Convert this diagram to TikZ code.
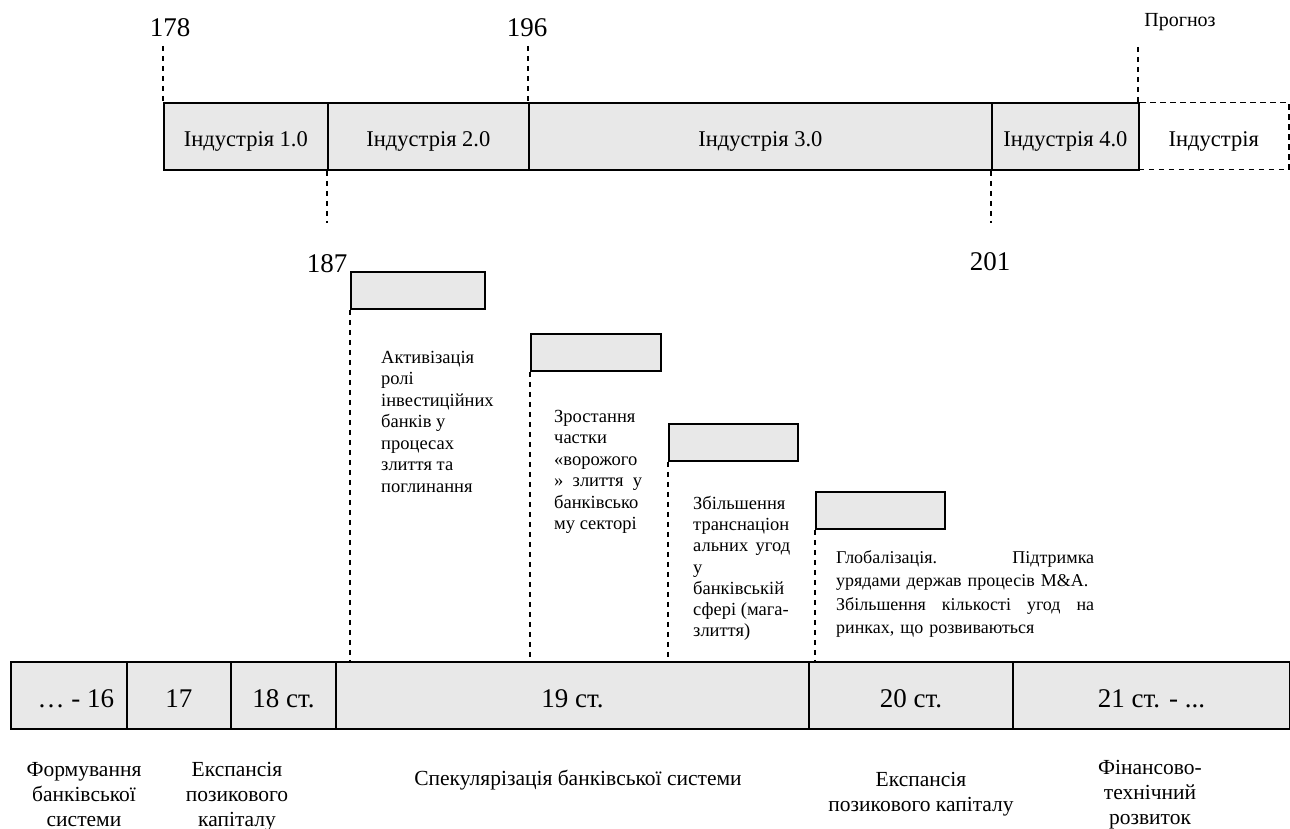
\documentclass[tikz,border=0pt]{standalone}
\usepackage{fontspec}
\setmainfont{Liberation Serif}
\definecolor{boxgray}{RGB}{232,232,232}
\begin{document}
\begin{tikzpicture}[x=1pt,y=-1pt,
  bar/.style={draw=black,line width=1.8pt,fill=boxgray,minimum height=67pt,inner sep=0pt,anchor=north west},
  ind/.style={bar,font=\fontsize{22.5}{26}\selectfont,text height=24pt,text depth=3pt},
  cent/.style={bar,font=\fontsize{27}{31}\selectfont,text height=28pt,text depth=3pt},
  small/.style={draw=black,line width=1.8pt,fill=boxgray,minimum height=37pt,inner sep=0pt,anchor=north west},
  dashln/.style={line width=1.5pt,dash pattern=on 5.5pt off 4.5pt},
  year/.style={font=\fontsize{27}{30}\selectfont,inner sep=0pt},
  note/.style={anchor=north west,inner sep=0pt,align=left,font=\fontsize{18.5}{21.5}\selectfont},
  era/.style={anchor=north,inner sep=0pt,align=center,font=\fontsize{21.5}{25}\selectfont}]
\useasboundingbox (0,0) rectangle (1290,829);
% top bar
\node[ind,minimum width=164pt] (i1) at (163,102) {Індустрія 1.0};
\node[ind,minimum width=201pt] (i2) at (327,102) {Індустрія 2.0};
\node[ind,minimum width=463pt] (i3) at (528,102) {Індустрія 3.0};
\node[ind,minimum width=147pt] (i4) at (991,102) {Індустрія 4.0};
\node[ind,minimum width=150pt,fill=none,line width=1.5pt,dash pattern=on 5.5pt off 4.5pt] (i5) at (1138,102) {Індустрія};
% year labels
\node[year] (y178) at (170,28) {178};
\node[year] (y196) at (527,28) {196};
\node[year] (y187) at (327,264) {187};
\node[year] (y201) at (990,262) {201};
\node[font=\fontsize{20}{23}\selectfont,inner sep=0pt] (prog) at (1180,22) {Прогноз};
\coordinate (c178) at (163,46);
\coordinate (c196) at (528,46);
\coordinate (cprog) at (1138,47);
\coordinate (c187) at (327,223);
\coordinate (c201) at (991,223);
\draw[dashln] (c178) -- (i1.north west);
\draw[dashln] (c196) -- (i3.north west);
\draw[dashln] (cprog) -- (i5.north west);
\draw[dashln] (i2.south west) -- (c187);
\draw[dashln] (i4.south west) -- (c201);
% small boxes
\node[small,minimum width=134pt] (b1) at (350,271) {};
\node[small,minimum width=130pt] (b2) at (530,333) {};
\node[small,minimum width=129pt] (b3) at (668,423) {};
\node[small,minimum width=129pt] (b4) at (815,491) {};
% bottom bar
\node[cent,minimum width=116pt] (s16) at (10,661) {\hspace{14pt}… - 16};
\node[cent,minimum width=104pt] (s17) at (126,661) {17};
\node[cent,minimum width=105pt] (s18) at (230,661) {18 ст.};
\node[cent,minimum width=473pt] (s19) at (335,661) {19 ст.};
\node[cent,minimum width=204pt] (s20) at (808,661) {20 ст.};
\node[cent,minimum width=277pt] (s21) at (1012,661) {21 ст. - ...};
% dashed drops
\draw[dashln] (b1.south west) -- (b1.south west |- s19.north);
\draw[dashln] (b2.south west) -- (b2.south west |- s19.north);
\draw[dashln] (b3.south west) -- (b3.south west |- s19.north);
\draw[dashln] (b4.south west) -- (b4.south west |- s19.north);
% notes
\node[note] (n1) at (381,351) {Активізація\\ролі\\інвестиційних\\банків у\\процесах\\злиття та\\поглинання};
\node[note] (n2) at (554,410) {Зростання\\частки\\«ворожого\\»\hspace{0.5em}злиття\hspace{0.5em}у\\банківсько\\му секторі};
\node[note,font=\fontsize{18.5}{21.2}\selectfont] (n3) at (693,496) {Збільшення\\транснаціон\\альних\hspace{0.4em}угод\\у\\банківській\\сфері (мага-\\злиття)};
\node[note,text width=258pt,font=\fontsize{18}{23.5}\selectfont] (n4) at (836,550) {Глобалізація.\hfill Підтримка\\урядами держав процесів M\&A.\\Збільшення\hfill кількості\hfill угод\hfill на\\ринках, що розвиваються};
% eras
\node[era] (e1) at (84,762) {Формування\\банківської\\системи};
\node[era] (e2) at (237,762) {Експансія\\позикового\\капіталу};
\node[era] (e3) at (578,770) {Спекулярізація банківської системи};
\node[era] (e4) at (921,772) {Експансія\\позикового капіталу};
\node[era] (e5) at (1150,760) {Фінансово-\\технічний\\розвиток};
\end{tikzpicture}
\end{document}
